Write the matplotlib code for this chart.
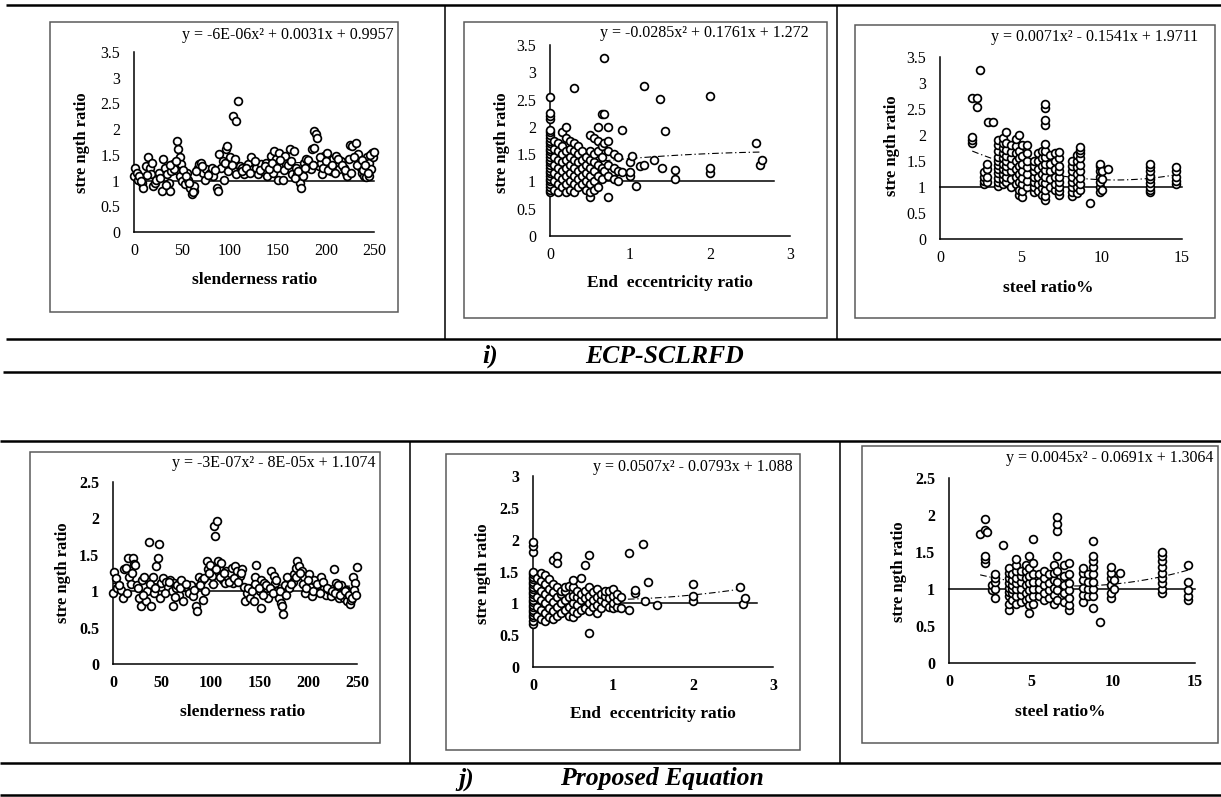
import matplotlib
matplotlib.use('Agg')
import matplotlib.pyplot as plt
from matplotlib.lines import Line2D
from matplotlib.patches import Rectangle
import numpy as np

# ---------------- data ----------------
# Panel 1: ECP-SCLRFD, slenderness ratio
p1_points = [(1,1.25),(0,1.09),(3,1.15),(4,1.02),(8,0.96),(9,0.86),(12,1.28),(15,1.45),(17,1.25),(18,1.12),
             (20,0.89),(22,0.96),(23,1.02),(26,1.15),(29,0.8),(30,1.41),(32,1.25),(34,1.12),(36,0.96),(38,0.8),
             (39,1.18),(41,1.32),(42,1.22),(45,1.77),(46,1.61),(48,1.45),(49,1.32),(48,1.09),(50,0.99),(53,0.93),
             (55,1.15),(56,1.02),(58,0.86),(60,0.73),(62,0.8),(63,0.89),(67,1.25),(68,1.32),(70,1.35),(72,1.15),
             (74,1.02),(75,1.22),(79,1.15),(81,1.25),(82,1.09),(86,0.86),(87,0.8),(89,1.51),(91,1.25),(93,1.38),
             (94,1.02),(96,1.61),(97,1.67),(100,1.45),(103,2.25),(106,2.16),(108,2.55),(103,1.22),(105,1.41),(106,1.12),
             (110,1.28),(113,1.25),(115,1.12),(119,1.32),(122,1.45),(124,1.22),(127,1.25),(129,1.12),(132,1.32),(134,1.18),
             (138,1.35),(139,1.09),(143,1.48),(145,1.15),(146,1.57),(148,1.41),(150,1.02),(151,1.54),(153,1.28),(155,1.02),
             (157,1.48),(158,1.32),(162,1.61),(167,1.57),(163,1.22),(165,1.12),(169,1.25),(170,1.12),(173,0.96),(174,0.86),
             (176,1.09),(177,1.35),(179,1.41),(183,1.32),(184,1.22),(185,1.61),(187,1.64),(188,1.96),(190,1.9),(191,1.83),
             (193,1.28),(195,1.35),(196,1.12),(198,1.48),(201,1.54),(203,1.35),(205,1.18),(207,1.41),(210,1.48),(212,1.28),
             (214,1.22),(216,1.38),(219,1.25),(221,1.15),(222,1.09),(224,1.41),(225,1.7),(227,1.67),(231,1.73),(233,1.51),
             (234,1.38),(236,1.25),(238,1.15),(240,1.09),(242,1.06),(243,1.45),(245,1.35),(247,1.22),(248,1.54),(249,1.45),
             (245,1.09),(5,1.08),(7,1.0),(14,1.1),(19,1.35),(27,1.05),(33,0.92),(37,1.3),(44,1.38),(51,1.2),
             (54,1.08),(57,0.95),(61,0.78),(65,1.18),(71,1.28),(77,1.1),(84,1.2),(95,1.35),(98,1.18),(102,1.3),
             (112,1.18),(117,1.25),(121,1.15),(126,1.38),(131,1.2),(136,1.28),(141,1.22),(144,1.35),(149,1.25),(152,1.4),
             (156,1.2),(160,1.3),(164,1.38),(168,1.05),(171,1.18),(178,1.25),(181,1.4),(186,1.3),(194,1.45),(197,1.25),
             (200,1.38),(202,1.2),(206,1.3),(209,1.15),(213,1.42),(217,1.3),(220,1.2),(226,1.15),(229,1.45),(232,1.3),
             (237,1.4),(239,1.2),(241,1.3),(244,1.15),(246,1.5),(250,1.55)]

# Panel 2: ECP-SCLRFD, end eccentricity ratio (columns of points)
p2_col_x = [0.0, 0.05, 0.1, 0.15, 0.2, 0.25, 0.3, 0.35, 0.4, 0.45, 0.5, 0.55, 0.6, 0.65, 0.68, 0.72,
            0.8, 0.85, 0.9, 1.0, 1.03, 1.08, 1.12, 1.18, 1.3, 1.37, 1.4, 1.44, 1.56, 2.0, 2.58, 2.62, 2.65]
p2_col_y = [[0.8,0.85,0.9,0.95,1.0,1.05,1.1,1.15,1.2,1.25,1.3,1.35,1.4,1.45,1.5,1.55,1.6,1.65,1.7,1.75,
             1.8,1.85,1.9,1.95,2.15,2.2,2.25,2.55],
            [0.85,1.0,1.15,1.3,1.45,1.6,1.75],
            [0.8,0.95,1.1,1.25,1.4,1.55,1.7],
            [0.9,1.05,1.2,1.35,1.5,1.65,1.9],
            [0.8,0.95,1.1,1.25,1.4,1.55,1.8,2.0],
            [0.85,1.0,1.15,1.3,1.45,1.6,1.75],
            [0.8,0.95,1.1,1.25,1.4,1.55,1.7,2.72],
            [0.9,1.05,1.2,1.35,1.5,1.65],
            [0.95,1.1,1.25,1.4,1.55],
            [0.85,1.0,1.15,1.3,1.45],
            [0.72,0.8,0.95,1.1,1.25,1.4,1.55,1.85],
            [0.85,1.0,1.2,1.35,1.5,1.8],
            [0.9,1.1,1.3,1.55,1.75,2.0],
            [1.05,1.25,1.45,1.65,2.24],
            [1.2,1.7,2.24,3.26],
            [0.72,1.1,1.3,1.55,1.75,1.99],
            [1.05,1.25,1.5],
            [1.0,1.2,1.45],
            [1.18,1.95],
            [1.1,1.18,1.35],
            [1.47], [0.92], [1.28], [1.3,2.75], [1.4], [2.51], [1.25], [1.93],
            [1.04,1.21], [1.15,1.25,2.57], [1.7], [1.3], [1.39]]

# Panel 3: ECP-SCLRFD, steel ratio %
p3_col_x = [2.0, 2.3, 2.45, 2.7, 2.9, 3.0, 3.3, 3.6, 3.9, 4.1, 4.4, 4.7, 4.9, 5.1, 5.4, 5.8, 6.1, 6.3, 6.5,
            6.8, 7.1, 7.4, 8.2, 8.5, 8.7, 9.3, 9.9, 10.05, 10.4, 13.0, 14.6]
p3_col_y = [[1.85,1.9,1.97,2.72], [2.72,2.53], [3.25], [1.05,1.12,1.2,1.28], [1.1,1.2,1.35,1.45], [2.25], [2.25],
            [1.02,1.1,1.18,1.26,1.34,1.42,1.5,1.58,1.7,1.8,1.9],
            [1.05,1.15,1.25,1.35,1.45,1.55,1.65,1.75,1.85,1.95],
            [1.1,1.2,1.3,1.4,1.5,1.6,1.72,1.85,2.05],
            [1.0,1.15,1.3,1.42,1.55,1.68,1.8],
            [1.05,1.2,1.35,1.5,1.65,1.78,1.92],
            [0.85,0.95,1.1,1.25,1.4,1.55,1.7,2.0],
            [0.8,0.92,1.05,1.18,1.3,1.45,1.6,1.8],
            [1.0,1.12,1.25,1.38,1.5,1.65,1.8],
            [0.9,1.0,1.1,1.2,1.3,1.4,1.5],
            [0.92,1.05,1.2,1.35,1.5,1.65],
            [0.85,0.98,1.1,1.25,1.4,1.55,1.7],
            [0.75,0.82,0.95,1.08,1.2,1.32,1.45,1.58,1.7,1.82,2.2,2.28,2.52,2.6],
            [1.0,1.15,1.3,1.45,1.62],
            [0.95,1.05,1.2,1.35,1.5,1.65],
            [0.85,0.92,1.0,1.1,1.2,1.3,1.4,1.55,1.68],
            [0.82,0.9,1.0,1.1,1.2,1.3,1.4,1.5],
            [0.88,1.0,1.12,1.25,1.38,1.5,1.62],
            [0.95,1.05,1.18,1.3,1.42,1.55,1.65,1.72,1.76],
            [0.7],
            [0.9,1.0,1.1,1.2,1.3,1.4,1.45],
            [0.95,1.15,1.3],
            [1.35],
            [0.9,0.95,1.0,1.08,1.15,1.22,1.3,1.38,1.45],
            [1.05,1.12,1.2,1.3,1.38]]

# Panel 4: Proposed equation, slenderness ratio
p4_points = [(1,1.27),(3,1.18),(0,0.97),(4,1.04),(8,1.02),(10,0.91),(11,1.3),(13,1.32),(15,1.46),(16,1.2),
             (18,1.1),(20,1.46),(22,1.37),(23,1.36),(25,1.09),(27,0.9),(29,0.79),(30,1.15),(32,1.2),(34,0.86),
             (35,1.0),(37,1.67),(39,0.79),(41,1.2),(42,0.97),(44,1.34),(46,1.45),(47,1.65),(48,0.9),(49,1.11),
             (51,1.18),(54,1.13),(56,1.06),(58,1.15),(60,1.0),(61,0.79),(63,1.11),(65,1.04),(66,1.09),(68,0.95),
             (70,1.15),(72,0.86),(73,1.06),(77,1.04),(78,0.97),(80,1.09),(82,0.93),(85,0.79),(86,0.73),(88,1.2),
             (91,1.15),(92,0.88),(94,1.0),(96,1.42),(97,1.3),(99,1.36),(101,1.21),(103,1.89),(104,1.76),(107,1.97),
             (108,1.42),(109,1.32),(111,1.39),(113,1.15),(115,1.11),(116,1.28),(118,1.2),(120,1.25),(122,1.32),(123,1.11),
             (125,1.35),(127,1.28),(130,1.21),(132,1.3),(134,1.06),(135,0.86),(137,0.97),(140,0.9),(144,0.86),(146,1.2),
             (147,1.36),(149,1.09),(151,1.0),(152,1.15),(152,0.77),(155,1.11),(158,1.04),(159,0.9),(162,1.28),(165,1.21),
             (166,1.11),(168,1.0),(170,0.9),(172,0.84),(173,0.79),(174,0.69),(176,1.09),(178,1.2),(180,1.04),(184,1.13),
             (185,1.23),(187,1.32),(189,1.42),(191,1.35),(194,1.28),(196,1.2),(197,0.97),(199,1.11),(201,1.23),(202,1.06),
             (204,0.93),(206,1.15),(208,1.02),(211,1.09),(213,1.2),(216,1.04),(218,0.95),(221,1.02),(223,0.93),(226,1.31),
             (228,1.11),(230,1.02),(232,0.9),(234,1.09),(235,0.97),(237,0.9),(239,1.02),(240,0.86),(243,0.82),(244,0.88),
             (246,1.2),(248,1.11),(250,1.33),(6,1.08),(14,0.98),(19,1.25),(26,1.05),(31,0.95),(38,1.1),(43,1.05),
             (53,0.98),(57,1.12),(64,0.92),(69,1.05),(75,1.1),(83,1.02),(89,1.08),(93,1.18),(98,1.25),(102,1.1),
             (106,1.3),(110,1.2),(114,1.25),(119,1.12),(124,1.18),(128,1.12),(131,1.25),(138,1.05),(142,1.0),(145,1.1),
             (150,1.05),(154,0.95),(157,1.08),(161,1.05),(164,0.98),(167,1.15),(171,1.0),(177,0.95),(182,1.1),(188,1.2),
             (192,1.25),(195,1.1),(198,1.05),(200,1.15),(205,1.0),(209,1.1),(212,0.98),(215,1.12),(219,1.05),(224,1.0),
             (227,0.98),(231,1.08),(233,0.95),(238,1.0),(242,0.95),(245,0.9),(247,1.02),(249,0.95)]

# Panel 5: Proposed equation, end eccentricity ratio
p5_col_x = [0.0, 0.05, 0.1, 0.15, 0.2, 0.25, 0.3, 0.35, 0.4, 0.45, 0.5, 0.55, 0.6, 0.65, 0.7, 0.75, 0.8,
            0.85, 0.9, 0.95, 1.0, 1.05, 1.1, 1.2, 1.28, 1.38, 1.4, 1.44, 1.55, 2.0, 2.59, 2.63, 2.65]
p5_col_y = [[0.68,0.72,0.78,0.82,0.86,0.9,0.94,0.98,1.02,1.06,1.1,1.14,1.18,1.22,1.26,1.3,1.34,1.38,1.42,
             1.46,1.5,1.8,1.9,1.97],
            [0.8,0.95,1.1,1.25,1.4],
            [0.75,0.9,1.05,1.2,1.35,1.48],
            [0.72,0.85,1.0,1.15,1.3,1.45],
            [0.78,0.92,1.08,1.22,1.38],
            [0.75,0.88,1.02,1.18,1.3,1.68],
            [0.8,0.95,1.1,1.25,1.75,1.63],
            [0.85,1.0,1.15,1.2],
            [0.9,1.05,1.2,1.25],
            [0.8,0.95,1.1,1.28],
            [0.78,0.88,1.0,1.12,1.25,1.36],
            [0.85,0.98,1.1,1.2],
            [0.9,1.05,1.15,1.4],
            [0.92,1.08,1.2,1.6],
            [0.53,0.88,1.0,1.12,1.25,1.76],
            [0.95,1.05,1.18],
            [0.85,0.98,1.1,1.22],
            [0.92,1.05,1.15],
            [1.0,1.12,1.2],
            [0.95,1.08,1.2],
            [0.92,1.0,1.12,1.22],
            [0.95,1.05,1.15],
            [0.92,1.1],
            [0.9,1.79],
            [1.16,1.21],
            [1.93], [1.03], [1.33], [0.98],
            [1.03,1.11,1.31], [1.26], [0.99], [1.08]]

# Panel 6: Proposed equation, steel ratio %
p6_col_x = [1.9, 2.2, 2.3, 2.6, 2.8, 3.3, 3.65, 3.85, 4.1, 4.4, 4.7, 4.9, 5.15, 5.5, 5.8, 6.1, 6.4, 6.6,
            7.0, 7.3, 8.2, 8.5, 8.75, 9.2, 9.9, 10.05, 10.4, 13.0, 14.6]
p6_col_y = [[1.75], [1.35,1.41,1.45,1.8,1.95], [1.77], [0.98,1.05], [0.88,1.0,1.1,1.15,1.2], [1.6],
            [0.72,0.8,0.9,0.96,1.02,1.08,1.15,1.22,1.28],
            [0.85,0.95,1.0,1.05,1.12,1.2],
            [0.8,0.9,1.0,1.08,1.15,1.25,1.32,1.4],
            [0.82,0.92,1.0,1.1,1.18,1.25],
            [0.85,0.95,1.05,1.15,1.25,1.32],
            [0.68,0.78,0.88,0.98,1.08,1.18,1.28,1.45],
            [0.8,0.9,1.0,1.1,1.2,1.35,1.68],
            [0.9,1.0,1.1,1.2],
            [0.85,0.95,1.05,1.15,1.25],
            [0.88,0.98,1.08,1.2],
            [0.8,0.92,1.02,1.12,1.22,1.32],
            [0.85,0.98,1.1,1.25,1.45,1.78,1.88,1.97],
            [0.82,0.95,1.05,1.18,1.32],
            [0.72,0.78,0.88,0.98,1.08,1.2,1.35],
            [0.82,0.92,1.02,1.12,1.22,1.28],
            [0.9,1.0,1.1,1.2],
            [0.75,0.9,1.0,1.1,1.2,1.3,1.38,1.45,1.65],
            [0.55],
            [0.88,0.95,1.05,1.15,1.22,1.3],
            [1.0,1.12],
            [1.22],
            [0.95,1.0,1.08,1.15,1.22,1.3,1.38,1.45,1.5],
            [0.85,0.9,0.98,1.1,1.32]]

# trendline coefficients (a, b, c) as printed on the chart: y = a x^2 + b x + c
trend_coefs = [(-6e-06, 0.0031, 0.9957), (-0.0285, 0.1761, 1.272), (0.0071, -0.1541, 1.9711),
               (-3e-07, -8e-05, 1.1074), (0.0507, -0.0793, 1.088), (0.0045, -0.0691, 1.3064)]
trend_range = [(0, 250), (0, 2.65), (2.0, 14.6), (0, 250), (0, 2.65), (1.9, 14.6)]
equations = ["y = -6E-06x² + 0.0031x + 0.9957", "y = -0.0285x² + 0.1761x + 1.272",
             "y = 0.0071x² - 0.1541x + 1.9711", "y = -3E-07x² - 8E-05x + 1.1074",
             "y = 0.0507x² - 0.0793x + 1.088", "y = 0.0045x² - 0.0691x + 1.3064"]
x_labels = ["slenderness ratio", "End  eccentricity ratio", "steel ratio%",
            "slenderness ratio", "End  eccentricity ratio", "steel ratio%"]
y_label = "stre ngth ratio"
x_ticks = [[0, 50, 100, 150, 200, 250], [0, 1, 2, 3], [0, 5, 10, 15],
           [0, 50, 100, 150, 200, 250], [0, 1, 2, 3], [0, 5, 10, 15]]
y_ticks = [[0, 0.5, 1, 1.5, 2, 2.5, 3, 3.5]] * 3 + [[0, 0.5, 1, 1.5, 2, 2.5], [0, 0.5, 1, 1.5, 2, 2.5, 3],
                                                   [0, 0.5, 1, 1.5, 2, 2.5]]
ref_line_end = [250, 2.8, 15, 250, 2.8, 15]
captions = [("i)", "ECP-SCLRFD"), ("j)", "Proposed Equation")]


def cols_to_xy(cx, cy):
    xs, ys = [], []
    for x, col in zip(cx, cy):
        for y in col:
            xs.append(x)
            ys.append(y)
    return xs, ys


def pts_to_xy(pts):
    return [p[0] for p in pts], [p[1] for p in pts]


series = [pts_to_xy(p1_points), cols_to_xy(p2_col_x, p2_col_y), cols_to_xy(p3_col_x, p3_col_y),
          pts_to_xy(p4_points), cols_to_xy(p5_col_x, p5_col_y), cols_to_xy(p6_col_x, p6_col_y)]

# ---------------- layout (pixels) ----------------
W, H = 1221, 797
plt.rcParams['font.family'] = ['Liberation Serif', 'DejaVu Serif']
fig = plt.figure(figsize=(W / 100, H / 100), dpi=100)


def fx(x):
    return x / W


def fy(y):
    return 1 - y / H


def hline(x0, x1, y, lw=1.8):
    fig.add_artist(Line2D([fx(x0), fx(x1)], [fy(y), fy(y)], lw=lw, color='black', solid_capstyle='butt'))


def vline(x, y0, y1, lw=1.1):
    fig.add_artist(Line2D([fx(x), fx(x)], [fy(y0), fy(y1)], lw=lw, color='black', solid_capstyle='butt'))


# table rules
hline(6, W, 5)
hline(6, W, 339)
hline(3, W, 372)
vline(445, 5, 339)
vline(837, 5, 339)
hline(0, W, 441)
hline(0, W, 763)
hline(0, W, 795)
vline(410, 441, 763)
vline(840, 441, 763)

# chart boxes (x0, x1, y0, y1)
boxes = [(50, 398, 22, 312), (464, 827, 22, 318), (855, 1215, 25, 318),
         (30, 380, 452, 743), (446, 800, 454, 750), (862, 1218, 446, 743)]
for (bx0, bx1, by0, by1) in boxes:
    fig.add_artist(Rectangle((fx(bx0), fy(by1)), (bx1 - bx0) / W, (by1 - by0) / H,
                             fill=False, edgecolor='#5a5a5a', lw=1.1))

# axes pixel frames: x at 0, x at xmax, y at 0, y at ymax
frames = [(134, 374, 232, 52), (550, 790, 236, 45), (940, 1182, 239, 57),
          (113, 357, 664, 482), (533, 773, 667, 476), (949, 1195, 663, 478)]
xmaxes = [250, 3, 15, 250, 3, 15]
ymaxes = [3.5, 3.5, 3.5, 2.5, 3, 2.5]
eq_pos = [(394, 35), (809, 33), (1198, 37), (375, 463), (793, 467), (1213, 458)]
ylab_pos = [(82, 143), (502, 143), (892, 146), (63, 573), (483, 574), (899, 572)]
xlab_pos = [(255, 280), (670, 283), (1048, 288), (243, 712), (653, 714), (1060, 712)]


def fmt(v):
    return ('%g' % v)


for i in range(6):
    x0, x1, y0, y1 = frames[i]
    ax = fig.add_axes([fx(x0), fy(y0), (x1 - x0) / W, (y0 - y1) / H])
    ax.set_xlim(0, xmaxes[i])
    ax.set_ylim(0, ymaxes[i])
    ax.patch.set_alpha(0)
    for s in ['top', 'right']:
        ax.spines[s].set_visible(False)
    for s in ['left', 'bottom']:
        ax.spines[s].set_linewidth(1.1)
        ax.spines[s].set_color('black')
    ax.set_xticks(x_ticks[i])
    ax.set_xticklabels([fmt(v) for v in x_ticks[i]])
    ax.set_yticks(y_ticks[i])
    ax.set_yticklabels([fmt(v) for v in y_ticks[i]])
    weight = 'normal' if i < 3 else 'bold'
    ax.tick_params(axis='both', length=0, labelsize=11.5)
    ax.tick_params(axis='x', pad=8)
    ax.tick_params(axis='y', pad=10)
    for lab in ax.get_xticklabels() + ax.get_yticklabels():
        lab.set_fontweight(weight)

    # reference line y = 1
    ax.plot([0, ref_line_end[i]], [1, 1], color='black', lw=1.1, zorder=2, clip_on=False)
    # trend line
    a, b, c = trend_coefs[i]
    t0, t1 = trend_range[i]
    tx = np.linspace(t0, t1, 100)
    ax.plot(tx, a * tx ** 2 + b * tx + c, color='black', lw=0.8, dashes=(6, 2.5, 1.2, 2.5), zorder=2)
    # points
    xs, ys = series[i]
    ax.plot(xs, ys, 'o', mfc='white', mec='black', ms=5.6, mew=1.25, zorder=3, clip_on=False)

    fig.text(fx(eq_pos[i][0]), fy(eq_pos[i][1]), equations[i], ha='right', va='center', fontsize=11.5)
    fig.text(fx(ylab_pos[i][0]), fy(ylab_pos[i][1]), y_label, rotation=90, ha='center', va='center',
             fontsize=12, fontweight='bold')
    fig.text(fx(xlab_pos[i][0]), fy(xlab_pos[i][1]), x_labels[i], ha='center', va='center',
             fontsize=12.5, fontweight='bold')

# captions
cap_kw = dict(ha='center', va='center', fontsize=18.5, fontweight='bold', style='italic')
fig.text(fx(490), fy(356), captions[0][0], **cap_kw)
fig.text(fx(665), fy(356), captions[0][1], **cap_kw)
fig.text(fx(466), fy(779), captions[1][0], **cap_kw)
fig.text(fx(662), fy(779), captions[1][1], **cap_kw)

fig.savefig('out.png', dpi=100)
